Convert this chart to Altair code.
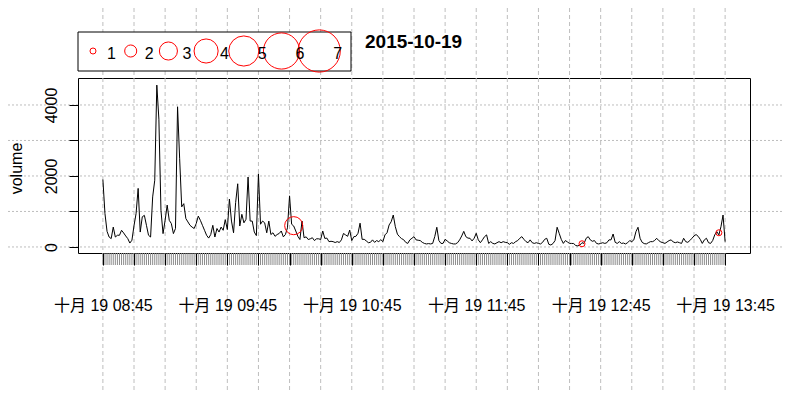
import math
import json
import altair as alt
import pandas as pd

FONT = "Liberation Sans, Arial, Noto Sans CJK SC, sans-serif"
GRID = "#bebebe"

# ---- data ----
# trading volume, one value per minute starting at 08:45
volume = [
    1900, 940, 440, 280, 235, 560, 280, 330, 330, 470,
    395, 310, 235, 110, 190, 600, 940, 1650, 420, 850,
    890, 610, 330, 280, 1410, 1880, 4560, 3600, 1035, 376,
    750, 1180, 750, 660, 376, 520, 3950, 2500, 1130, 1220,
    800, 705, 610, 560, 520, 660, 870, 750, 610, 470,
    330, 250, 350, 610, 280, 520, 420, 560, 470, 770,
    490, 1350, 730, 400, 1250, 1780, 590, 920, 680, 780,
    1970, 730, 730, 420, 320, 2060, 640, 730, 680, 400,
    730, 350, 400, 300, 350, 380, 450, 285, 350, 540,
    1440, 640, 590, 450, 300, 210, 730, 260, 285, 210,
    230, 260, 180, 230, 230, 210, 450, 240, 250, 150,
    160, 150, 125, 150, 125, 200, 380, 340, 300, 475,
    180,
    290, 300, 385, 670, 215, 215, 170, 120, 130, 200,
    130, 180, 150, 205, 150, 340, 400, 620, 710, 900,
    570, 360, 290, 235, 205, 130, 100, 200, 245, 290,
    200, 190, 180, 130, 100, 85, 95, 85, 100, 290,
    555, 180, 100, 100, 215, 170, 120, 100, 85, 85,
    120, 200, 310, 440, 290, 250, 245, 170, 245, 385,
    200, 120, 200, 290, 340, 100, 150, 100, 85, 120,
    150, 120, 150, 130, 120, 75, 120, 100, 150, 180,
    245, 290, 215, 150, 120, 200, 120, 100, 120, 100,
    85, 130, 215, 245, 75, 55, 95, 180, 555, 385,
    215, 100, 180, 140, 100, 100, 95, 40, 30, 55,
    120, 100, 245, 290, 200, 160, 180, 100, 85, 100,
    120, 100, 120, 200, 200, 365, 130, 100, 150, 100,
    110, 85, 120, 180, 150, 200, 430, 555, 245, 130,
    95, 85, 120, 150, 150, 180, 245, 180, 140, 120,
    100, 140, 180, 200, 140, 120, 140, 120, 100, 245,
    150, 130, 180, 245, 310, 350, 300, 215, 100, 200,
    245, 120, 100, 180, 340, 430, 340, 570, 900, 150,
]
minutes = list(range(len(volume)))  # minutes after 08:45

circle_minutes = [92, 231, 297]
circle_values = [600, 90, 400]
circle_sizes = [3, 1, 1]

legend_sizes = [1, 2, 3, 4, 5, 6, 7]

y_ticks = [0, 1000, 2000, 3000, 4000]
x_major = list(range(0, 301, 15))
x_minor = list(range(0, 301))
x_tick_labels = ["十月 19 08:45", "十月 19 09:45", "十月 19 10:45",
                 "十月 19 11:45", "十月 19 12:45", "十月 19 13:45"]
title_text = "2015-10-19"
y_title = "volume"

# ---- layout constants (pixels) ----
W, H = 672, 175
X_DOMAIN = [-12, 312]
Y_DOMAIN = [-170, 4760]
LEG_X0, LEG_DX = 15, 37.7          # legend symbol centres, px from plot left
PX2MIN = (X_DOMAIN[1] - X_DOMAIN[0]) / W

# ---- tables ----
df_line = pd.DataFrame({"m": minutes, "volume": volume})
df_circ = pd.DataFrame({"m": circle_minutes, "volume": circle_values, "k": circle_sizes})
df_leg = pd.DataFrame({"k": legend_sizes, "lab": [str(k) for k in legend_sizes]})
df_vgrid = pd.DataFrame({"m": x_major})
df_minor = pd.DataFrame({"m": x_minor})
df_hgrid = pd.DataFrame({"volume": y_ticks})

xscale = alt.Scale(domain=X_DOMAIN, nice=False, zero=False)
yscale = alt.Scale(domain=Y_DOMAIN, nice=False, zero=False)
sscale = alt.Scale(type="pow", exponent=2, domain=[0, 7], range=[0, math.pi * (3.4 * 7) ** 2])

label_expr = ("datum.value % 60 === 0 ? " + json.dumps(x_tick_labels, ensure_ascii=False)
              + "[datum.value / 60] : ''")

x_axis = alt.Axis(values=x_major, labelExpr=label_expr, tickSize=12, tickColor="black",
                  tickWidth=1, domain=False, grid=False, labelFont=FONT, labelFontSize=16,
                  labelColor="black", labelPadding=45, labelBaseline="alphabetic",
                  labelAlign="center", labelAngle=0, labelFlush=False, labelOverlap=False,
                  title=None, orient="bottom", zindex=1)
y_axis = alt.Axis(values=y_ticks, format="d",
                  labelExpr="datum.value % 2000 === 0 ? datum.label : ''",
                  labelAngle=270, labelAlign="center", labelBaseline="alphabetic",
                  labelPadding=13, tickSize=9, tickColor="black", tickWidth=1,
                  domain=False, grid=False, labelFont=FONT, labelFontSize=16,
                  labelColor="black", labelOverlap=False, labelFlush=False,
                  title=y_title, titleFont=FONT, titleFontSize=16, titleFontWeight="normal",
                  titleColor="black", titleAngle=270, titleAlign="center",
                  titleBaseline="alphabetic", titleX=-57, titleY=90, orient="left", zindex=1)


def X(field):
    return alt.X(field, scale=xscale, axis=x_axis)


def Y(field):
    return alt.Y(field, scale=yscale, axis=y_axis)


vgrid = alt.Chart(df_vgrid).mark_rule(color=GRID, strokeDash=[4, 3], strokeWidth=1, clip=False).encode(
    x=X("m:Q"), y=alt.value(-70), y2=alt.value(320))

hgrid = alt.Chart(df_hgrid).mark_rule(color=GRID, strokeDash=[2, 2], strokeWidth=1, clip=False).encode(
    y=Y("volume:Q"), x=alt.value(-70), x2=alt.value(705))

minor = alt.Chart(df_minor).mark_rule(color="#8c8c8c", strokeWidth=1, clip=False).encode(
    x=X("m:Q"), y=alt.value(H), y2=alt.value(H + 12))

line = alt.Chart(df_line).mark_line(color="black", strokeWidth=1).encode(
    x=X("m:Q"), y=Y("volume:Q"))

circles = alt.Chart(df_circ).mark_point(shape="circle", filled=False, color="red",
                                        strokeWidth=1, opacity=1).encode(
    x=X("m:Q"), y=Y("volume:Q"),
    size=alt.Size("k:Q", scale=sscale, legend=None))

leg_pos = f"{X_DOMAIN[0]} + ({LEG_X0} + {LEG_DX} * (datum.k - 1)) * {PX2MIN}"
leg_box = alt.Chart(pd.DataFrame({"a": [0]})).mark_rect(
    fill="white", stroke="black", strokeWidth=1, clip=False).encode(
    x=alt.value(0), x2=alt.value(273), y=alt.value(-46), y2=alt.value(-7))
leg_circ = alt.Chart(df_leg).transform_calculate(m=leg_pos).mark_point(
    shape="circle", filled=False, color="red", strokeWidth=1, opacity=1, clip=False).encode(
    x=X("m:Q"), y=alt.value(-27),
    size=alt.Size("k:Q", scale=sscale, legend=None))
leg_text = alt.Chart(df_leg).transform_calculate(m=leg_pos).mark_text(
    align="left", baseline="alphabetic", dx=14, fontSize=16, font=FONT, color="black",
    clip=False).encode(
    x=X("m:Q"), y=alt.value(-19), text="lab:N")

title_mark = alt.Chart(pd.DataFrame({"t": [title_text]})).mark_text(
    align="left", baseline="alphabetic", fontSize=19, fontWeight="bold", font=FONT,
    color="black", clip=False).encode(
    x=alt.value(287), y=alt.value(-30), text="t:N")

chart = alt.layer(vgrid, hgrid, minor, line, circles, leg_box, leg_circ, leg_text, title_mark).properties(
    width=W, height=H,
    padding={"left": 70, "top": 70, "right": 33, "bottom": 140},
    autosize=alt.AutoSizeParams(type="none"),
    background="white",
).configure_view(stroke="black", strokeWidth=1)

chart.save("out.html", embed_options={"renderer": "svg", "actions": False})
